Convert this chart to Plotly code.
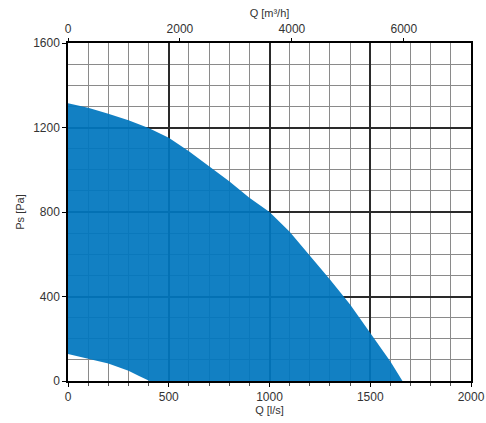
import plotly.graph_objects as go

# fan curve
q_upper = [0, 100, 200, 300, 400, 500, 600, 700, 800, 900, 1000, 1100, 1200, 1300, 1400, 1500, 1600, 1660]
ps_upper = [1315, 1293, 1265, 1234, 1198, 1151, 1088, 1016, 945, 868, 800, 706, 594, 480, 362, 228, 92, 0]

q_lower = [0, 100, 200, 300, 350, 405]
ps_lower = [128, 104, 83, 48, 25, 0]

q_ticks = [0, 500, 1000, 1500, 2000]
ps_ticks = [0, 400, 800, 1200, 1600]
m3h_ticks = [0, 2000, 4000, 6000]

# outline of the working area: upper curve, along the axis, lower curve back
x_poly = q_upper + q_lower[::-1]
y_poly = ps_upper + ps_lower[::-1]

fig = go.Figure()
fig.add_trace(go.Scatter(
    x=x_poly, y=y_poly, fill="toself", mode="lines",
    line=dict(width=0), fillcolor="rgba(0,118,190,0.93)",
    hoverinfo="skip", showlegend=False,
))
# dummy trace so the top axis shows up
fig.add_trace(go.Scatter(x=[0, 7200], y=[None, None], xaxis="x2", showlegend=False, hoverinfo="skip"))

font = dict(family="Liberation Sans, Arial", size=12, color="#333")
title_font = dict(family="Liberation Sans, Arial", size=11, color="#333")

fig.update_layout(
    width=486, height=423,
    margin=dict(l=68, r=15, t=43, b=42),
    plot_bgcolor="white", paper_bgcolor="white",
    font=font,
    xaxis=dict(
        range=[0, 2000], tickvals=q_ticks, showgrid=True, gridcolor="#2a2a2a", gridwidth=1.5,
        minor=dict(dtick=100, showgrid=True, gridcolor="#8a8a8a", gridwidth=1, ticks="outside", ticklen=3, tickcolor="#555"),
        showline=True, linecolor="black", linewidth=1.5, mirror=True,
        ticks="outside", ticklen=4, tickcolor="black", zeroline=False, automargin=False,
        title=dict(text="Q [l/s]", standoff=2, font=title_font),
    ),
    xaxis2=dict(
        range=[0, 7200], tickvals=m3h_ticks, overlaying="x", side="top",
        showgrid=False, ticks="outside", ticklen=4, tickcolor="black",
        showline=False, zeroline=False, automargin=False,
        title=dict(text="Q [m³/h]", standoff=2, font=title_font),
    ),
    yaxis=dict(
        range=[0, 1600], tickvals=ps_ticks, showgrid=True, gridcolor="#2a2a2a", gridwidth=1.5,
        minor=dict(dtick=100, showgrid=True, gridcolor="#8a8a8a", gridwidth=1),
        showline=True, linecolor="black", linewidth=1.5, mirror=True,
        ticks="outside", ticklen=4, tickcolor="black", zeroline=False, automargin=False,
        title=dict(text="Ps [Pa]", standoff=6, font=title_font),
    ),
)

# drop the default 8px body margin so the figure fills the window
fig.write_html("out.html", config={"displayModeBar": False},
               post_script="document.body.style.margin='0';")
